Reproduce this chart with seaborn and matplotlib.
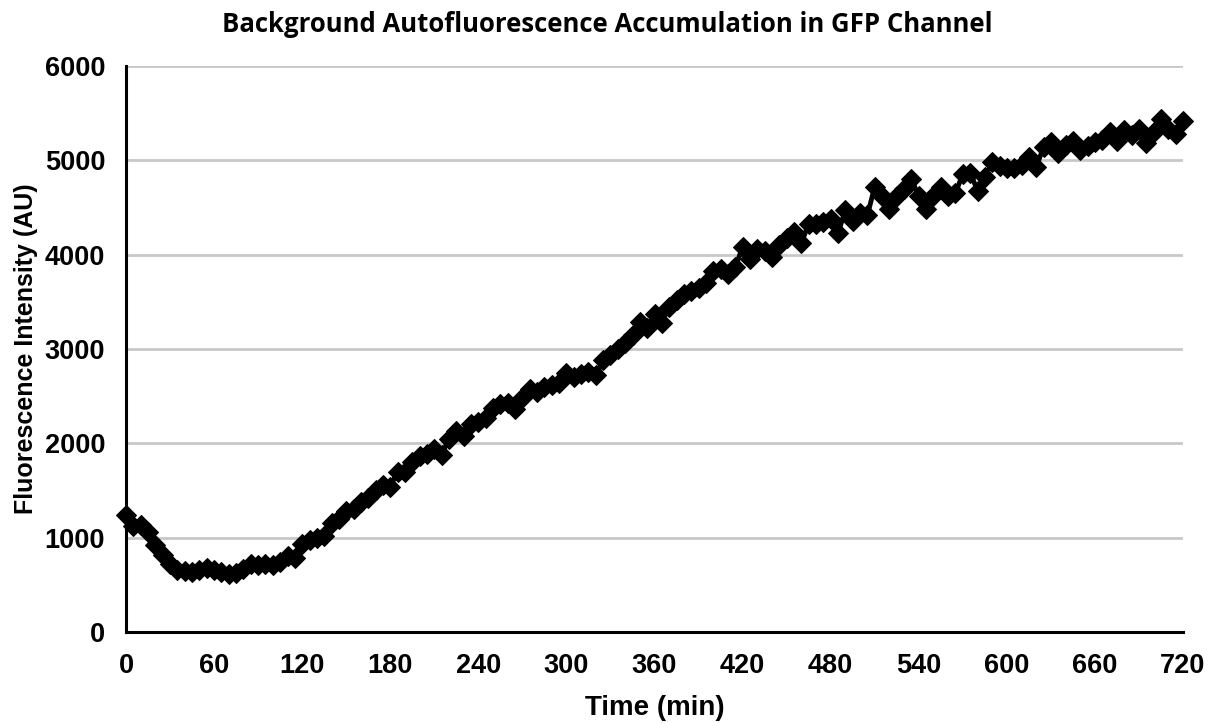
import numpy as np
import pandas as pd
import matplotlib
matplotlib.use("Agg")
import matplotlib.pyplot as plt
import seaborn as sns

# Sampling times (min) and mean background intensity in the GFP channel
time_min = list(range(0, 725, 5))
intensity = [
    1240, 1120, 1130, 1060, 920, 820, 720, 660, 650, 640,
    660, 680, 660, 640, 610, 630, 670, 720, 710, 720,
    710, 740, 810, 780, 930, 970, 1000, 1020, 1150, 1200,
    1280, 1300, 1380, 1420, 1500, 1560, 1540, 1700, 1700, 1800,
    1870, 1890, 1940, 1880, 2050, 2130, 2080, 2200, 2230, 2270,
    2370, 2420, 2430, 2360, 2480, 2580, 2540, 2600, 2620, 2640,
    2750, 2700, 2730, 2760, 2720, 2880, 2940, 3000, 3060, 3150,
    3290, 3220, 3370, 3280, 3450, 3520, 3580, 3620, 3650, 3700,
    3830, 3850, 3800, 3870, 4080, 3950, 4060, 4040, 3980, 4100,
    4180, 4240, 4120, 4330, 4320, 4350, 4380, 4230, 4470, 4360,
    4440, 4420, 4720, 4620, 4480, 4620, 4700, 4800, 4620, 4480,
    4620, 4720, 4620, 4650, 4860, 4870, 4680, 4820, 4980, 4940,
    4920, 4920, 4950, 5040, 4930, 5140, 5190, 5080, 5160, 5200,
    5110, 5150, 5190, 5220, 5300, 5200, 5320, 5270, 5330, 5180,
    5300, 5440, 5330, 5280, 5420,
]

x_ticks = list(range(0, 721, 60))
y_ticks = list(range(0, 6001, 1000))

df = pd.DataFrame({"Time (min)": time_min, "Intensity": intensity})

sns.set_style("white")
plt.rcParams["font.family"] = ["Liberation Sans", "DejaVu Sans"]
plt.rcParams["text.color"] = "black"
plt.rcParams["axes.labelcolor"] = "black"
plt.rcParams["xtick.color"] = "black"
plt.rcParams["ytick.color"] = "black"

fig = plt.figure(figsize=(12.14, 7.23), dpi=100)
ax = fig.add_axes([0.1038, 0.1259, 0.8707, 0.7828])

sns.lineplot(data=df, x="Time (min)", y="Intensity", ax=ax,
             color="black", linewidth=3.5, marker="D", markersize=10,
             markeredgecolor="black", markerfacecolor="black",
             clip_on=False, zorder=5)

ax.set_xlim(0, 720)
ax.set_ylim(0, 6000)
ax.set_xticks(x_ticks)
ax.set_yticks(y_ticks)
ax.set_xticklabels([str(v) for v in x_ticks], fontsize=19.5, fontweight="bold")
ax.set_yticklabels([str(v) for v in y_ticks], fontsize=19.5, fontweight="bold")

ax.yaxis.grid(True, color="#c8c8c8", linewidth=2)
ax.xaxis.grid(False)
ax.set_axisbelow(True)

for side in ("top", "right"):
    ax.spines[side].set_visible(False)
for side in ("left", "bottom"):
    ax.spines[side].set_color("black")
    ax.spines[side].set_linewidth(2.2)

ax.tick_params(axis="both", which="major", direction="out", length=7,
               width=2.2, color="black", labelcolor="black", pad=8)

ax.set_xlabel("Time (min)", fontsize=20, fontweight="bold", labelpad=12,
              color="black")
ax.set_ylabel("Fluorescence Intensity (AU)", fontsize=18, fontweight="bold",
              labelpad=5, color="black")

fig.suptitle("Background Autofluorescence Accumulation in GFP Channel",
             x=0.5, y=0.985, fontsize=18.5, fontweight="bold", color="black",
             family=["Open Sans", "DejaVu Sans"])

fig.savefig("out.png", dpi=100, facecolor="white")
